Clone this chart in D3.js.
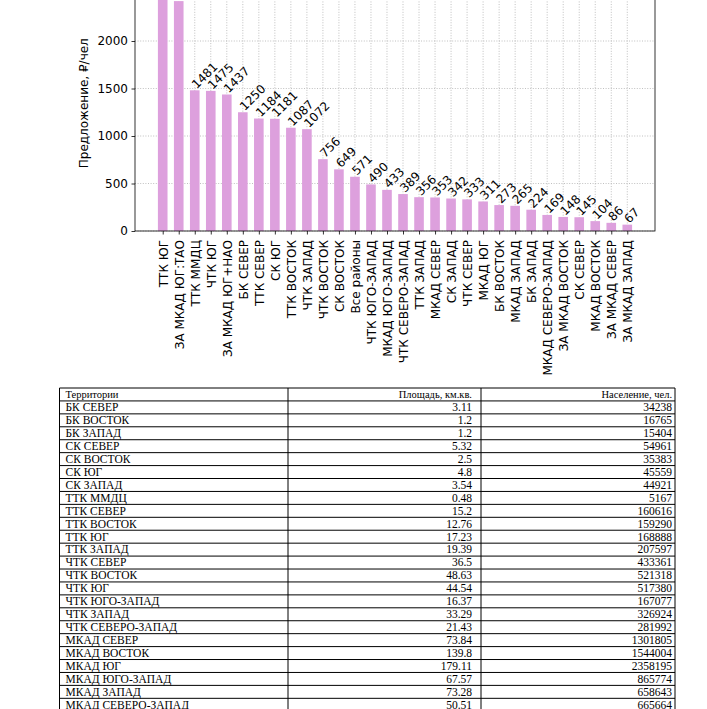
<!DOCTYPE html>
<html><head><meta charset="utf-8">
<script src="https://cdn.jsdelivr.net/npm/d3@7"></script>
<style>html,body{margin:0;padding:0;background:#fff;overflow:hidden}</style>
</head><body>
<svg id="c" width="707" height="709"></svg>
<script>
const categories = ["ТТК ЮГ","ЗА МКАД ЮГ:ТАО","ТТК ММДЦ","ЧТК ЮГ","ЗА МКАД ЮГ+НАО","БК СЕВЕР","ТТК СЕВЕР","СК ЮГ","ТТК ВОСТОК","ЧТК ЗАПАД","ЧТК ВОСТОК","СК ВОСТОК","Все районы","ЧТК ЮГО-ЗАПАД","МКАД ЮГО-ЗАПАД","ЧТК СЕВЕРО-ЗАПАД","ТТК ЗАПАД","МКАД СЕВЕР","СК ЗАПАД","ЧТК СЕВЕР","МКАД ЮГ","БК ВОСТОК","МКАД ЗАПАД","БК ЗАПАД","МКАД СЕВЕРО-ЗАПАД","ЗА МКАД ВОСТОК","СК СЕВЕР","МКАД ВОСТОК","ЗА МКАД СЕВЕР","ЗА МКАД ЗАПАД"];
const values = [2560,2420,1481,1475,1437,1250,1184,1181,1087,1072,756,649,571,490,433,389,356,353,342,333,311,273,265,224,169,148,145,104,86,67];
const yTicks = [0,500,1000,1500,2000,2500];
const yLabel = "Предложение, ₽/чел";

const tableHeader = ["Территории","Площадь, км.кв.","Население, чел."];
const territories = ["БК СЕВЕР","БК ВОСТОК","БК ЗАПАД","СК СЕВЕР","СК ВОСТОК","СК ЮГ","СК ЗАПАД","ТТК ММДЦ","ТТК СЕВЕР","ТТК ВОСТОК","ТТК ЮГ","ТТК ЗАПАД","ЧТК СЕВЕР","ЧТК ВОСТОК","ЧТК ЮГ","ЧТК ЮГО-ЗАПАД","ЧТК ЗАПАД","ЧТК СЕВЕРО-ЗАПАД","МКАД СЕВЕР","МКАД ВОСТОК","МКАД ЮГ","МКАД ЮГО-ЗАПАД","МКАД ЗАПАД","МКАД СЕВЕРО-ЗАПАД"];
const areas = ["3.11","1.2","1.2","5.32","2.5","4.8","3.54","0.48","15.2","12.76","17.23","19.39","36.5","48.63","44.54","16.37","33.29","21.43","73.84","139.8","179.11","67.57","73.28","50.51"];
const population = ["34238","16765","15404","54961","35383","45559","44921","5167","160616","159290","168888","207597","433361","521318","517380","167077","326924","281992","1301805","1544004","2358195","865774","658643","665664"];

const svg = d3.select("#c");
const L = 135, R = 655, B = 231;
const x = d3.scaleLinear().domain([-1.73, categories.length - 1 + 1.73]).range([L, R]);
const y = d3.scaleLinear().domain([0, 2000]).range([B, 41]);
const yMax = 2690;
const T = y(yMax);
const bw = 0.6 * (x(1) - x(0));

// grid
const g = svg.append("g");
g.selectAll("line.vg").data(categories).enter().append("line")
  .attr("x1", (d,i)=>x(i)).attr("x2",(d,i)=>x(i)).attr("y1",T).attr("y2",B)
  .attr("stroke","#b0b0b0").attr("stroke-width",0.8).attr("stroke-dasharray","1,1.6");
g.selectAll("line.hg").data(yTicks).enter().append("line")
  .attr("x1", L).attr("x2", R).attr("y1", d=>y(d)).attr("y2", d=>y(d))
  .attr("stroke","#b0b0b0").attr("stroke-width",0.8).attr("stroke-dasharray","1,1.6");

// bars
svg.append("g").selectAll("rect").data(values).enter().append("rect")
  .attr("x",(d,i)=>x(i)-bw/2).attr("width",bw)
  .attr("y",d=>y(d)).attr("height",d=>B-y(d)).attr("fill","#dda0dd");

// value labels
svg.append("g").selectAll("text").data(values).enter().append("text")
  .attr("transform",(d,i)=>`translate(${x(i)+2},${y(d)-1}) rotate(-45)`)
  .attr("font-family","DejaVu Sans").attr("font-size",12).attr("fill","#000")
  .text(d=>d);

// axes
const yAxis = d3.axisLeft(y).tickValues(yTicks).tickSize(3.5).tickPadding(3.5).tickFormat(d3.format("d"));
const ya = svg.append("g").attr("transform",`translate(${L},0)`).call(yAxis);
ya.select(".domain").remove();
ya.selectAll("text").attr("font-family","DejaVu Sans").attr("font-size",12).attr("fill","#000");
ya.selectAll("line").attr("stroke","#000").attr("stroke-width",0.8);

const xAxis = d3.axisBottom(x).tickValues(d3.range(categories.length)).tickSize(3.5).tickPadding(0).tickFormat(i=>categories[i]);
const xa = svg.append("g").attr("transform",`translate(0,${B})`).call(xAxis);
xa.select(".domain").remove();
xa.selectAll("line").attr("stroke","#000").attr("stroke-width",0.8);
xa.selectAll("text").attr("font-family","DejaVu Sans").attr("font-size",12).attr("fill","#000")
  .attr("text-anchor","end").attr("dy",null).attr("y",0)
  .attr("transform","translate(4.3,9) rotate(-90)");

// spines
svg.append("rect").attr("x",L).attr("y",T).attr("width",R-L).attr("height",B-T)
  .attr("fill","none").attr("stroke","#000").attr("stroke-width",0.8);

svg.append("text").attr("transform",`translate(88,${(B+T)/2 + 0}) rotate(-90)`)
  .attr("text-anchor","middle").attr("font-family","DejaVu Sans").attr("font-size",12)
  .text(yLabel);

// table
const rows = [tableHeader].concat(territories.map((t,i)=>[t, areas[i], population[i]]));
const colX = [59.5, 288, 481, 675];
const rowY = d3.scaleLinear().domain([0, 1]).range([388, 388 + 12.93]);
const tg = svg.append("g");
tg.selectAll("line.h").data(d3.range(rows.length + 1)).enter().append("line")
  .attr("x1", colX[0]).attr("x2", colX[3]).attr("y1", d=>rowY(d)).attr("y2", d=>rowY(d))
  .attr("stroke","#000").attr("stroke-width",1);
tg.selectAll("line.v").data(colX).enter().append("line")
  .attr("x1", d=>d).attr("x2", d=>d).attr("y1", rowY(0)).attr("y2", rowY(rows.length))
  .attr("stroke","#000").attr("stroke-width",1);
rows.forEach((r, ri) => {
  r.forEach((c, ci) => {
    tg.append("text")
      .attr("x", ci === 0 ? colX[0] + 6 : (ci === 1 ? colX[2] - 9 : colX[3] - 3))
      .attr("y", rowY(ri) + 10.3)
      .attr("text-anchor", ci === 0 ? "start" : "end")
      .attr("font-family", "Liberation Serif").attr("font-size", ri === 0 ? 10.5 : 11.5)
      .attr("fill", "#000").text(c);
  });
});
</script>
</body></html>
